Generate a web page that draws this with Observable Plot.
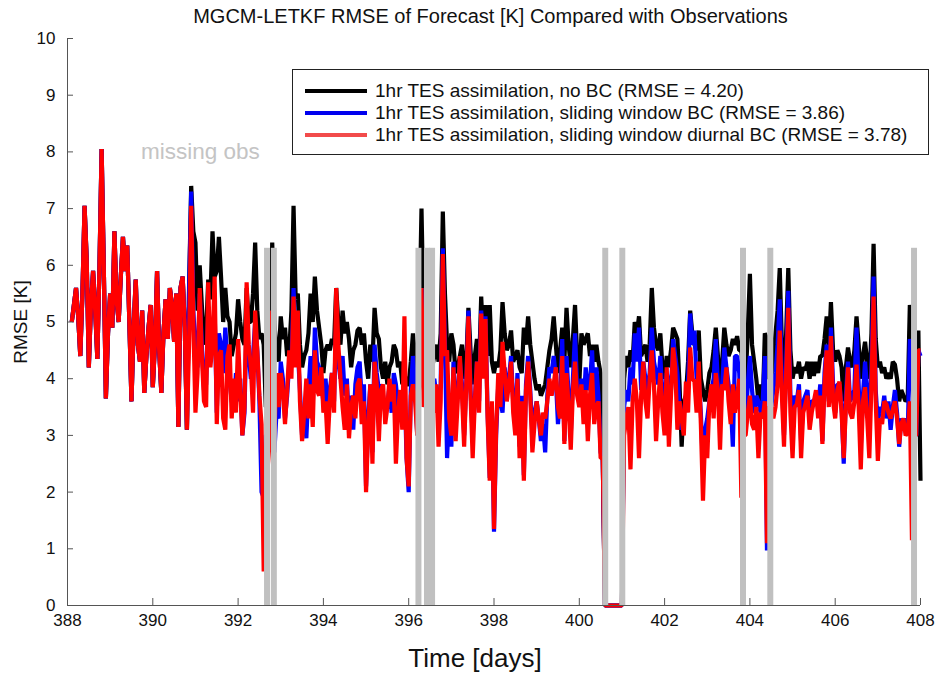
<!DOCTYPE html>
<html><head><meta charset="utf-8">
<script src="https://cdn.jsdelivr.net/npm/d3@7"></script>
<script src="https://cdn.jsdelivr.net/npm/@observablehq/plot@0.6"></script>
<style>
body{margin:0;background:#fff;font-family:"Liberation Sans",Arial,sans-serif;}
#wrap{position:relative;width:935px;height:675px;overflow:hidden;background:#fff}
#chart{position:absolute;left:0;top:0}
.title{position:absolute;left:23px;width:935px;top:5px;text-align:center;font-size:20px;color:#111}
.xlabel{position:absolute;left:275px;width:400px;top:643px;text-align:center;font-size:26px;color:#111}
.ylabel{position:absolute;left:21px;top:322px;transform:translate(-50%,-50%) rotate(-90deg);font-size:19px;white-space:nowrap;color:#111}
.legend{position:absolute;left:292px;top:69px;width:637px;height:86px;border:1px solid #222;box-sizing:border-box;background:#fff}
.row{position:absolute;left:0;height:22px;width:100%}
.row .sw{position:absolute;left:12px;width:62px;height:4px;top:9px}
.row .tx{position:absolute;left:82px;top:0;font-size:19px;line-height:22px;white-space:nowrap;color:#111}
.missing{position:absolute;left:141px;top:141px;font-size:22.5px;line-height:1;color:#c4c4c4}
</style></head>
<body>
<div id="wrap">
  <div id="chart"></div>
  <div class="title">MGCM-LETKF RMSE of Forecast [K] Compared with Observations</div>
  <div class="missing">missing obs</div>
  <div class="legend" id="legend"></div>
  <div class="ylabel">RMSE [K]</div>
  <div class="xlabel">Time [days]</div>
</div>
<script>
// ---- data (sampled every 0.05 day) ----
const startDay = 388.1;
const stepDays = 0.05;
// 388.10 .. 390.80: the three runs coincide
const sharedEarly = [
5.0,5.3,5.6,5.1,4.4,5.5,7.05,6.1,4.2,5.3,
5.9,5.2,4.35,6.0,8.05,6.0,3.65,4.8,5.5,4.9,
6.6,5.4,5.0,5.8,6.5,5.9,6.35,5.0,3.6,4.9,
5.75,4.6,4.3,5.2,3.75,4.4,4.9,5.3,3.85,4.6,
5.9,4.5,3.75,4.8,5.4,4.7,5.6,5.3,4.65,5.5,
3.15,5.6,5.8,4.9,3.1];
// 390.85 .. 408.00
const noBC = [
5.6,7.4,6.6,6.4,5.2,6.0,5.3,4.6,4.8,5.75,
5.4,6.6,5.8,5.9,6.5,5.8,5.0,5.6,5.1,5.0,
4.4,4.6,4.8,5.4,5.0,4.7,4.6,5.6,5.0,5.0,
5.5,6.4,5.2,4.7,4.8,4.6,3.5,3.5,4.0,6.4,
5.0,4.5,4.3,5.1,4.7,4.9,4.4,4.5,5.2,7.05,
5.4,5.5,4.6,4.2,4.4,4.5,4.8,5.5,5.0,5.8,
5.2,4.9,4.6,4.1,4.5,4.6,4.5,4.7,4.6,5.6,
5.0,4.6,5.2,4.8,5.0,4.7,4.2,4.5,4.6,4.85,
4.9,4.6,4.8,4.3,4.0,4.6,4.3,5.25,4.8,4.7,
4.2,4.0,4.3,3.9,4.2,4.3,4.6,4.5,4.2,4.3,
3.9,4.1,3.9,3.9,4.3,4.8,4.4,3.5,5.0,7.0,
5.0,4.0,4.5,4.0,4.2,4.4,4.6,4.3,4.8,6.95,
5.5,4.6,4.3,4.8,4.6,4.1,4.2,4.4,4.6,4.0,
4.3,5.25,4.5,3.9,4.4,4.7,4.2,5.45,4.6,5.3,
4.4,5.3,4.3,4.1,4.3,4.2,4.5,5.35,4.8,4.5,
4.6,4.85,4.3,4.4,4.5,4.2,4.1,4.9,4.6,5.1,
4.6,4.3,4.0,3.8,3.9,3.7,3.8,3.9,4.2,4.5,
4.7,5.1,4.6,4.1,4.5,4.9,4.3,5.25,4.6,4.2,
4.7,5.3,4.4,3.9,4.8,4.6,4.7,4.8,4.4,4.6,
4.3,4.6,4.3,4.1,2.6,0,0,0,0,0,
0,0,0,0,4.0,4.4,4.2,4.5,4.3,5.0,
4.8,5.1,4.4,4.5,4.6,4.3,4.6,5.6,4.9,4.6,
4.5,4.8,4.2,4.0,4.4,4.2,4.5,4.9,4.8,4.7,
3.9,2.8,3.6,3.7,4.3,5.2,4.8,4.6,4.5,4.85,
4.0,3.8,3.6,3.8,4.1,4.2,4.5,4.9,4.4,3.9,
4.3,4.9,4.6,4.4,4.5,4.7,4.6,4.75,4.5,4.5,
4.0,4.0,4.8,5.85,4.6,4.3,4.0,3.6,3.9,3.5,
4.8,4.7,4.0,4.0,4.3,4.8,5.2,5.95,4.6,4.0,
4.8,5.95,4.5,4.0,4.2,4.1,4.3,4.0,4.2,4.15,
4.3,4.0,4.3,4.05,4.3,4.1,4.4,4.4,4.7,5.1,
4.5,5.35,4.5,4.3,4.5,4.4,4.2,3.6,4.2,4.55,
4.3,4.2,4.5,5.1,4.6,4.0,4.4,4.65,4.3,4.0,
4.8,6.38,4.7,4.2,4.3,4.1,4.2,4.0,4.1,4.0,
4.3,4.25,4.0,3.6,3.8,3.7,3.6,3.65,5.3,5.0,
4.0,4.0,4.85,2.2];
const slidingBC = [
5.5,7.3,5.2,4.5,4.2,5.5,4.6,3.8,3.9,5.2,
4.4,4.9,5.2,3.4,4.8,4.6,4.1,4.9,4.3,4.0,
3.6,3.5,4.1,3.6,4.0,3.0,3.4,5.1,4.4,4.0,
4.4,5.0,4.5,3.6,2.0,1.9,3.0,3.0,3.5,3.5,
2.7,3.4,3.3,4.3,4.0,3.3,3.7,4.3,4.2,5.6,
4.6,4.5,3.8,3.0,3.5,2.95,3.8,4.4,3.5,4.9,
4.3,4.2,3.9,3.6,4.0,3.5,3.8,4.1,3.6,5.0,
4.3,4.0,4.4,3.7,4.0,3.2,3.7,3.1,3.9,4.2,
4.3,3.6,3.9,2.1,3.3,3.9,2.7,4.6,4.1,3.8,
3.9,3.7,3.4,3.5,3.9,3.4,4.1,3.9,3.5,3.8,
3.2,4.0,2.6,2.0,3.8,4.4,3.9,3.0,4.5,5.6,
4.0,3.5,4.0,3.5,3.8,4.0,3.7,3.6,3.9,6.3,
4.6,2.6,3.5,2.8,4.3,3.2,3.8,4.3,3.9,3.0,
3.9,5.2,3.8,3.0,3.6,4.3,3.6,5.2,4.3,5.1,
3.4,2.25,3.5,1.3,3.0,3.9,3.6,3.4,4.2,3.8,
4.0,4.4,3.6,3.2,4.1,2.8,3.7,2.3,3.9,4.4,
3.8,3.0,3.4,3.6,3.3,2.9,3.2,2.7,3.7,4.2,
4.1,4.4,4.0,3.2,3.7,4.7,2.9,4.4,3.7,3.0,
4.0,4.8,3.8,3.6,4.0,3.5,4.2,3.8,3.9,4.5,
3.4,4.2,3.7,2.7,2.6,0,0,0,0,0,
0,0,0,0,3.5,3.8,3.6,4.2,3.9,4.8,
4.3,4.9,3.8,4.3,4.0,3.8,4.1,4.9,4.3,4.1,
3.9,4.4,3.7,3.6,4.1,3.9,3.8,4.7,4.4,4.1,
3.5,3.1,3.4,3.7,3.9,5.15,4.6,4.85,4.0,4.0,
3.4,2.4,3.1,3.3,3.6,3.8,4.0,4.7,3.9,3.5,
3.9,4.55,4.2,3.9,3.6,2.8,4.4,4.4,4.1,3.0,
3.2,3.2,3.9,4.4,3.8,3.4,3.7,3.6,3.4,3.6,
4.4,0.97,3.5,3.5,3.8,4.1,4.6,5.4,4.0,3.0,
4.3,5.55,3.7,3.0,3.7,3.6,3.9,2.9,3.6,3.7,
3.8,3.3,3.6,3.6,3.7,3.5,3.9,2.9,4.1,4.6,
3.6,4.9,3.9,3.4,3.9,3.9,3.5,2.5,3.7,4.3,
3.6,3.7,3.8,4.9,3.9,2.8,3.7,4.3,3.8,3.1,
4.2,5.8,3.8,3.2,3.5,3.4,3.7,3.3,3.6,3.1,
3.5,3.8,3.4,2.8,3.3,3.2,3.3,3.0,4.7,4.4,
3.0,3.0,4.5,4.4];
const diurnalBC = [
4.6,7.05,5.0,3.4,4.1,5.6,4.4,3.6,3.5,5.7,
4.2,4.6,5.8,3.2,4.4,4.5,3.3,3.1,4.4,4.6,
3.3,4.0,3.4,4.7,3.8,3.0,3.5,5.7,4.6,4.2,
3.4,5.2,4.5,3.7,3.2,0.6,1.5,2.5,3.0,5.2,
3.0,4.1,3.5,4.1,3.8,3.2,3.8,4.5,4.0,5.45,
4.2,5.2,3.6,2.9,3.4,4.0,3.3,3.9,3.15,4.5,
3.8,3.7,4.2,3.4,3.6,2.85,3.6,4.1,3.4,5.6,
4.6,4.0,3.5,3.1,3.9,2.95,3.5,3.7,3.3,3.9,
4.0,3.2,3.6,2.0,3.1,3.9,2.5,4.3,3.9,2.9,
3.8,3.9,3.2,3.5,4.0,3.6,3.9,2.5,3.4,3.8,
3.1,5.1,2.6,2.1,3.7,3.9,3.6,3.0,4.0,5.6,
3.5,3.8,3.9,3.5,3.7,3.4,3.9,2.8,3.6,6.2,
4.4,4.5,3.3,3.0,4.2,2.9,3.6,4.4,3.7,2.8,
3.9,5.1,3.7,2.6,3.6,4.3,3.4,5.15,4.0,5.05,
3.3,2.2,3.6,1.35,3.1,4.1,3.5,4.65,4.1,3.6,
3.9,4.3,3.4,3.0,4.0,2.6,3.6,2.2,3.8,4.3,
3.7,2.7,3.2,3.6,3.3,3.0,3.4,3.3,3.6,4.0,
3.7,3.9,4.2,3.5,3.3,4.4,2.85,4.1,3.5,2.75,
3.8,4.3,3.7,3.5,3.9,3.2,3.8,2.9,3.7,4.1,
3.2,3.5,3.6,2.6,2.6,0,0,0,0,0,
0,0,0,0,3.0,3.3,3.5,2.4,3.6,4.0,
3.6,2.6,3.7,4.3,3.6,3.3,4.0,4.5,3.9,2.9,
3.6,4.1,3.4,3.0,4.2,2.8,3.7,4.55,4.2,3.1,
3.6,3.3,3.0,3.95,3.4,4.55,4.0,3.95,3.4,4.3,
3.2,1.85,3.0,2.6,3.6,3.9,3.3,4.1,3.8,2.75,
3.9,3.8,4.2,3.6,3.2,3.9,3.4,3.7,4.0,1.9,
3.0,3.0,3.4,3.7,3.2,3.1,3.5,2.6,3.4,3.3,
3.6,1.1,3.5,3.5,3.3,3.5,3.9,4.85,3.7,2.8,
4.1,5.25,3.4,2.6,3.5,3.55,3.8,2.6,3.4,3.55,
3.7,3.1,3.4,3.6,3.8,3.3,3.7,2.85,3.9,4.5,
3.5,4.75,3.6,3.3,3.8,3.95,3.4,2.6,3.5,4.2,
3.4,3.3,3.6,4.25,3.5,2.4,3.6,3.85,3.3,2.6,
3.9,5.45,3.6,2.55,3.3,3.2,3.6,3.55,3.4,3.3,
3.45,3.6,3.3,2.85,3.2,3.3,3.0,3.05,3.6,1.15,
3.0,3.0,4.5,4.5];
const missingObsDays = [392.69,392.85,396.24,396.44,396.56,400.62,401.02,403.85,404.49,407.86];
const missingBarHeight = 6.3;
const seriesNames = [
  "1hr TES assimilation, no BC (RMSE = 4.20)",
  "1hr TES assimilation, sliding window BC (RMSE = 3.86)",
  "1hr TES assimilation, sliding window diurnal BC (RMSE = 3.78)"
];
const xTicks = [388,390,392,394,396,398,400,402,404,406,408];
const yTicks = [0,1,2,3,4,5,6,7,8,9,10];

// ---- build ----
const colors = ["#000000","#0000ff","#ff0000"];
const legendColors = ["#000000","#0000ee","#f24b4b"];
function toRows(arr){
  const all = sharedEarly.concat(arr);
  return all.map((v,i)=>({day: +(startDay + i*stepDays).toFixed(2), v}));
}
const rows = [noBC, slidingBC, diurnalBC].map(toRows);
const halfW = 0.07;

const chart = Plot.plot({
  width: 935, height: 675,
  marginLeft: 67, marginRight: 15, marginTop: 38, marginBottom: 70,
  style: {fontFamily: "Liberation Sans, Arial, sans-serif", fontSize: "17px", background: "white", color: "#111"},
  x: {domain: [388, 408]},
  y: {domain: [0, 10]},
  marks: [
    ...rows.map((r,k)=>Plot.lineY(r, {x: "day", y: "v", stroke: colors[k], strokeWidth: 4.2, strokeLinejoin: "bevel", strokeLinecap: "butt"})),
    Plot.rectY(missingObsDays, {x1: d => d - halfW, x2: d => d + halfW, y1: 0, y2: () => missingBarHeight, fill: "#c0c0c0"}),
    Plot.ruleY([0], {stroke: "#555"}),
    Plot.ruleX([388], {stroke: "#555"}),
    Plot.axisX({ticks: xTicks, tickSize: -7, tickPadding: 15, label: null, tickFormat: d => String(d), stroke: "#555"}),
    Plot.axisY({ticks: yTicks, tickSize: -6, tickPadding: 18, label: null, tickFormat: d => String(d), stroke: "#555"})
  ]
});
document.getElementById("chart").appendChild(chart);

const lg = document.getElementById("legend");
const tops = [10, 32, 54];
seriesNames.forEach((n,i)=>{
  const row = document.createElement("div");
  row.className = "row"; row.style.top = tops[i] + "px";
  const sw = document.createElement("div"); sw.className = "sw"; sw.style.background = legendColors[i];
  const tx = document.createElement("div"); tx.className = "tx"; tx.textContent = n;
  row.appendChild(sw); row.appendChild(tx); lg.appendChild(row);
});
</script>
</body></html>
